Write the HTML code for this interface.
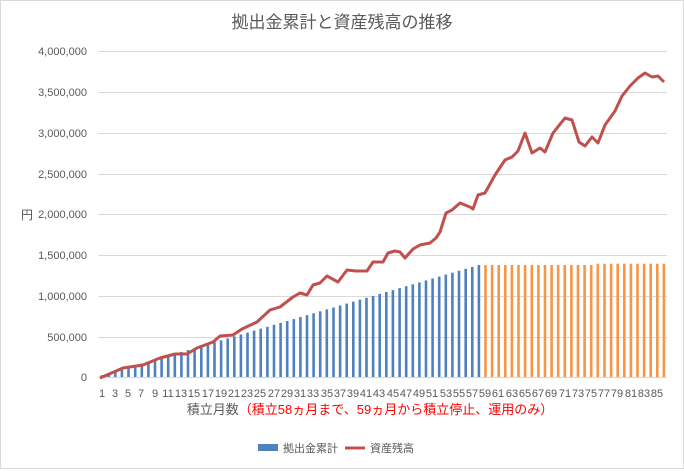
<!DOCTYPE html>
<html><head><meta charset="utf-8"><style>
body{margin:0;background:#fff}
svg text{font-family:"Liberation Sans","Noto Sans CJK JP",sans-serif}
</style></head><body>
<svg id="s" width="684" height="469" xmlns="http://www.w3.org/2000/svg">
<rect x="0.5" y="0.5" width="683" height="468" fill="#fff" stroke="#d9d9d9"/>
<text x="342" y="28" font-size="17" fill="#595959" text-anchor="middle">拠出金累計と資産残高の推移</text>
<g stroke="#d9d9d9" stroke-width="1">
<line x1="98" x2="667" y1="51.5" y2="51.5"/><line x1="98" x2="667" y1="92.5" y2="92.5"/>
<line x1="98" x2="667" y1="133.5" y2="133.5"/><line x1="98" x2="667" y1="174.5" y2="174.5"/>
<line x1="98" x2="667" y1="214.5" y2="214.5"/><line x1="98" x2="667" y1="255.5" y2="255.5"/>
<line x1="98" x2="667" y1="296.5" y2="296.5"/><line x1="98" x2="667" y1="337.5" y2="337.5"/>
<line x1="98" x2="667" y1="377.5" y2="377.5"/>
</g>
<g font-size="11" fill="#595959" text-anchor="end">
<text x="87" y="55">4,000,000</text><text x="87" y="96">3,500,000</text>
<text x="87" y="137">3,000,000</text><text x="87" y="178">2,500,000</text>
<text x="87" y="218">2,000,000</text><text x="87" y="259">1,500,000</text>
<text x="87" y="300">1,000,000</text><text x="87" y="341">500,000</text>
<text x="87" y="381">0</text>
</g>
<text x="27" y="219" font-size="12" fill="#595959" text-anchor="middle">円</text>
<g id="bars"></g>
<polyline fill="none" stroke="#c0504d" stroke-width="3" stroke-linejoin="round" points="100,378 123,368 143,365 160,358 175,354 187,354 197,348 213,342 220,336 233,335 242,329 257,322 270,310 280,307 293,297 300,293 307,295 313,285 320,283 327,276 338,282 347,270 356,271 367,271 373,262 383,262 388,253 395,251 400,252 405,258 413,249 420,245 430,243 436,238 440,232 446,213 452,210 460,203 470,207 473,209 478,195 485,193 495,175 505,160 512,157 518,151 525,133 532,153 540,148 545,152 553,133 565,118 572,120 579,142 585,146 592,137 598,143 605,125 615,111 622,96 630,86 638,78 645,73 652,77 658,76 664,82"/>
<g font-size="11" fill="#595959" text-anchor="middle">
<text x="102" y="397">1</text><text x="115" y="397">3</text><text x="128" y="397">5</text><text x="141" y="397">7</text><text x="155" y="397">9</text><text x="168" y="397">11</text><text x="181" y="397">13</text><text x="194" y="397">15</text><text x="208" y="397">17</text><text x="221" y="397">19</text><text x="234" y="397">21</text><text x="247" y="397">23</text><text x="260" y="397">25</text><text x="274" y="397">27</text><text x="287" y="397">29</text><text x="300" y="397">31</text><text x="313" y="397">33</text><text x="327" y="397">35</text><text x="340" y="397">37</text><text x="353" y="397">39</text><text x="366" y="397">41</text><text x="379" y="397">43</text><text x="393" y="397">45</text><text x="406" y="397">47</text><text x="419" y="397">49</text><text x="432" y="397">51</text><text x="446" y="397">53</text><text x="459" y="397">55</text><text x="472" y="397">57</text><text x="485" y="397">59</text><text x="498" y="397">61</text><text x="512" y="397">63</text><text x="525" y="397">65</text><text x="538" y="397">67</text><text x="551" y="397">69</text><text x="565" y="397">71</text><text x="578" y="397">73</text><text x="591" y="397">75</text><text x="604" y="397">77</text><text x="617" y="397">79</text><text x="631" y="397">81</text><text x="644" y="397">83</text><text x="657" y="397">85</text>
</g>
<text x="370" y="414" font-size="13" text-anchor="middle"><tspan fill="#595959">積立月数</tspan><tspan fill="#ff0000">（積立58ヵ月まで、59ヵ月から積立停止、運用のみ）</tspan></text>
<rect x="258" y="444" width="20" height="7" fill="#4f81bd"/>
<text x="283" y="452" font-size="11" fill="#595959">拠出金累計</text>
<line x1="345" x2="365" y1="448" y2="448" stroke="#c0504d" stroke-width="3"/>
<text x="370" y="452" font-size="11" fill="#595959">資産残高</text>
</svg>
<script>
var g=document.getElementById('bars'),h='';
for(var i=0;i<86;i++){var x=102+i*6.61,n=Math.min(i+1,58),v=n*23700;if(i>=75)v+=15000;var y=377-v*81.5/1e6;
h+='<rect x="'+(x-1.2).toFixed(1)+'" y="'+y.toFixed(1)+'" width="2.6" height="'+(377-y).toFixed(1)+'" fill="'+(i<58?'#4f81bd':'#f79646')+'"/>';}
g.innerHTML=h;
</script>
</body></html>
